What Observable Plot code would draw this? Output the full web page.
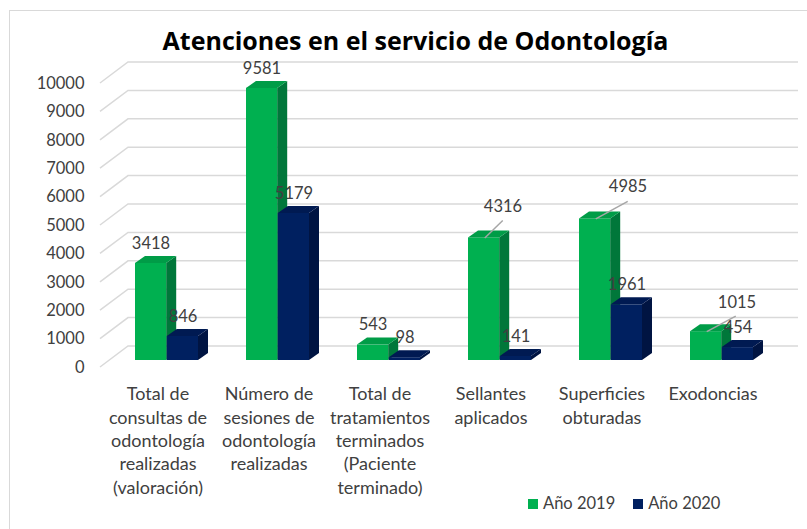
<!DOCTYPE html>
<html><head><meta charset="utf-8">
<script src="https://cdn.jsdelivr.net/npm/d3@7"></script>
<script src="https://cdn.jsdelivr.net/npm/@observablehq/plot@0.6"></script>
<style>
body{margin:0;background:#fff;}
#wrap{position:relative;width:807px;height:529px;overflow:hidden;font-family:Lato,sans-serif;}
#frame{position:absolute;left:9px;top:10px;width:820px;height:540px;border:1.5px solid #d9d9d9;box-sizing:border-box;}
#legend{position:absolute;left:528px;top:493px;font-size:16.5px;color:#404040;white-space:nowrap;}
#legend span.sw{display:inline-block;width:10px;height:10px;margin-right:5px;vertical-align:-0px;}
#legend span.it{margin-right:18px;}
#chart{position:absolute;left:0;top:0;}
</style></head>
<body>
<div id="wrap">
  <div id="frame"></div>
  <div id="chart"></div>
  <svg id="tsvg" width="807" height="60" style="position:absolute;left:0;top:0;overflow:visible">
    <text x="415.5" y="50" text-anchor="middle" font-family="Open Sans, sans-serif" font-weight="bold" font-size="25" fill="#000">Atenciones en el servicio de Odontología</text>
  </svg>
  <div id="legend"></div>
</div>
<script>
const categories = [
  "Total de\nconsultas de\nodontología\nrealizadas\n(valoración)",
  "Número de\nsesiones de\nodontología\nrealizadas",
  "Total de\ntratamientos\nterminados\n(Paciente\nterminado)",
  "Sellantes\naplicados",
  "Superficies\nobturadas",
  "Exodoncias"
];
const seriesNames = ["Año 2019", "Año 2020"];
const values2019 = [3418, 9581, 543, 4316, 4985, 1015];
const values2020 = [846, 5179, 98, 141, 1961, 454];
const yTicks = [0, 1000, 2000, 3000, 4000, 5000, 6000, 7000, 8000, 9000, 10000];

const rows2019 = categories.map((c, i) => ({cat: c, value: values2019[i]}));
const rows2020 = categories.map((c, i) => ({cat: c, value: values2020[i]}));

const GREEN = "#00b050", GREEN_SIDE = "#00773a", GREEN_TOP = "#009c47";
const NAVY = "#002060", NAVY_SIDE = "#001442", NAVY_TOP = "#001a52";
const TXT = "#404040";
const NS = "http://www.w3.org/2000/svg";
const DEPTH_X = 10, DEPTH_Y = 7;

function bw(scales) { const b = scales.x.bandwidth; return typeof b === "function" ? b() : b; }

function cube(data, fill, side, top, half) {
  return Plot.barY(data, {
    x: "cat", y: "value", fill,
    insetLeft: half === "right" ? 31.8 : 0,
    insetRight: half === "left" ? 31.8 : 0,
    render(index, scales, values, dims, ctx, next) {
      const g = next(index, scales, values, dims, ctx);
      for (const r of Array.from(g.querySelectorAll("rect"))) {
        const x = +r.getAttribute("x"), y = +r.getAttribute("y");
        const w = +r.getAttribute("width"), h = +r.getAttribute("height");
        const s = document.createElementNS(NS, "path");
        s.setAttribute("d", `M${x + w},${y + h}V${y}l${DEPTH_X},${-DEPTH_Y}V${y + h - DEPTH_Y}Z`);
        s.setAttribute("fill", side);
        const t = document.createElementNS(NS, "path");
        t.setAttribute("d", `M${x},${y}h${w}l${DEPTH_X},${-DEPTH_Y}h${-w}Z`);
        t.setAttribute("fill", top);
        g.appendChild(s); g.appendChild(t);
      }
      return g;
    }
  });
}

// callout labels (value labels moved away from their bars with a leader line)
const callouts = [
  {cat: categories[3], value: values2019[3], lx: 19, ly: -31, ex: 19, ey: -17},
  {cat: categories[4], value: values2019[4], lx: 33, ly: -32, ex: 33, ey: -17},
  {cat: categories[5], value: values2019[5], lx: 31, ly: -29, ex: 30, ey: -15}
];
const calloutCats = new Set(callouts.map(c => c.cat));

const grid = Plot.ruleY(yTicks, {
  y: d => d,
  render(index, scales, values, dims) {
    const g = d3.create("svg:g").attr("stroke", "#d9d9d9").attr("stroke-width", 1.5).attr("fill", "none");
    const left = dims.marginLeft;
    const right = dims.width - dims.marginRight;
    for (const i of index) {
      const y = scales.y(yTicks[i]);
      g.append("path").attr("d", `M${left - 9},${y + 7}L${left + 19},${y - 14}H${right + 19}`);
    }
    return g.node();
  }
});

const leaders = Plot.dot(callouts, {
  x: "cat", y: "value", r: 0,
  render(index, scales) {
    const g = d3.create("svg:g").attr("stroke", "#a6a6a6").attr("stroke-width", 1.5);
    const b = bw(scales);
    for (const i of index) {
      const c = callouts[i];
      const cx = scales.x(c.cat) + b / 4, ty = scales.y(c.value);
      g.append("line").attr("x1", cx + 1).attr("y1", ty + 0.5).attr("x2", cx + c.ex).attr("y2", ty + c.ey);
    }
    return g.node();
  }
});

const fs = 16.5;
const plot = Plot.plot({
  width: 807, height: 529,
  marginLeft: 109, marginRight: 28, marginTop: 76, marginBottom: 169,
  x: {type: "band", domain: categories, paddingInner: 0.43, paddingOuter: 0.215, axis: null},
  y: {domain: [0, 10000], axis: null},
  style: {fontFamily: "Lato, sans-serif", background: "transparent", overflow: "visible"},
  marks: [
    grid,
    Plot.text(yTicks, {y: d => d, text: d => String(d), frameAnchor: "left", textAnchor: "end", dx: -25, dy: 7, fontSize: fs, fill: TXT}),
    cube(rows2019, GREEN, GREEN_SIDE, GREEN_TOP, "left"),
    cube(rows2020, NAVY, NAVY_SIDE, NAVY_TOP, "right"),
    leaders,
    Plot.text(rows2019.filter(d => !calloutCats.has(d.cat)), {x: "cat", y: "value", text: d => String(d.value), dx: -16, dy: -20, fontSize: fs, fill: TXT}),
    ...callouts.map(c => Plot.text([c], {x: "cat", y: "value", text: d => String(d.value), dx: -16 + c.lx, dy: c.ly, fontSize: fs, fill: TXT})),
    Plot.text(rows2020, {x: "cat", y: "value", text: d => String(d.value), dx: 16, dy: -20, fontSize: fs, fill: TXT}),
    Plot.text(categories, {x: d => d, text: d => d, frameAnchor: "bottom", lineAnchor: "top", dx: -9, dy: 23, fontSize: 18, lineHeight: 1.3, fill: TXT})
  ]
});
document.getElementById("chart").appendChild(plot);

const legend = document.getElementById("legend");
seriesNames.forEach((s, i) => {
  const it = document.createElement("span");
  it.className = "it";
  const sw = document.createElement("span");
  sw.className = "sw";
  sw.style.background = i === 0 ? GREEN : NAVY;
  it.appendChild(sw);
  it.appendChild(document.createTextNode(s));
  legend.appendChild(it);
});
</script>
</body></html>
